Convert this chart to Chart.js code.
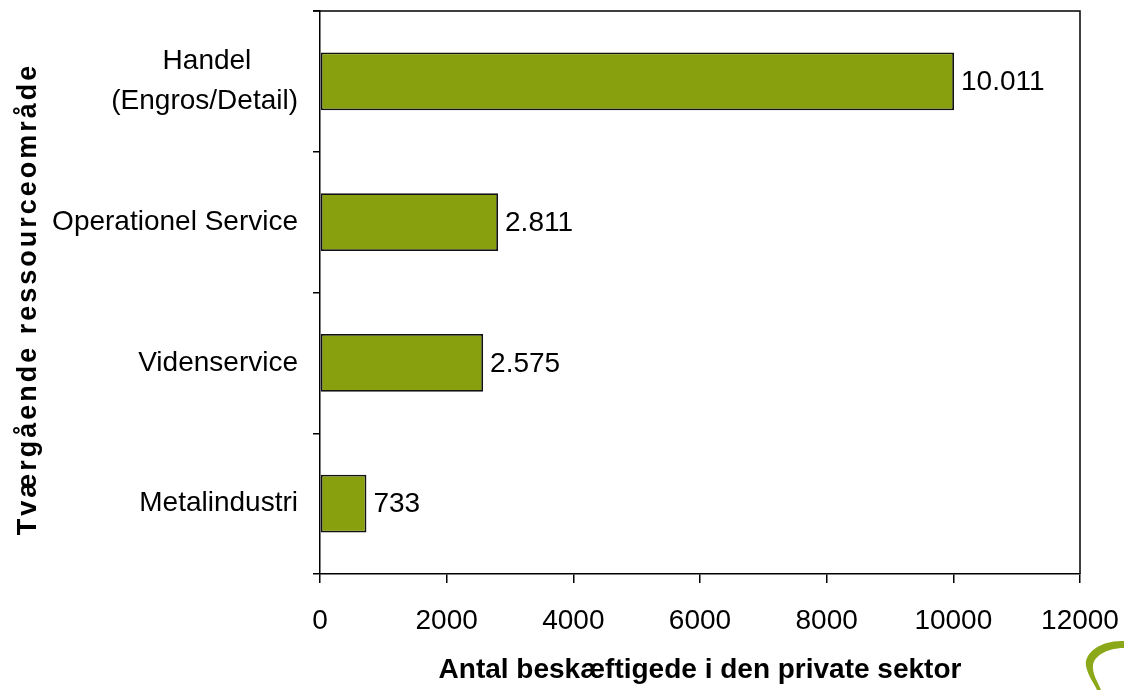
<!DOCTYPE html>
<html>
<head>
<meta charset="utf-8">
<script src="https://cdn.jsdelivr.net/npm/chart.js@4/dist/chart.umd.min.js"></script>
<style>
  html, body { margin: 0; padding: 0; background: #fff; }
  #wrap { width: 1124px; height: 690px; }
</style>
</head>
<body>
<div id="wrap"><canvas id="c" width="1124" height="690"></canvas></div>
<script>
const categories = [['Handel', '(Engros/Detail)'], 'Operationel Service', 'Videnservice', 'Metalindustri'];
const values = [10011, 2811, 2575, 733];
const xTicks = [0, 2000, 4000, 6000, 8000, 10000, 12000];
const xTitle = 'Antal beskæftigede i den private sektor';
const yTitle = 'Tværgående ressourceområde';

const FONT = "'Liberation Sans', Arial, sans-serif";
const BAR = '#88A00E';

const fmt = v => v.toLocaleString('da-DK');

// center the lines of a multi-line category label (right-aligned block)
const mctx = document.createElement('canvas').getContext('2d');
function centerLines(lines) {
  mctx.font = '28px ' + FONT;
  const ws = lines.map(l => mctx.measureText(l).width);
  const maxW = Math.max(...ws);
  const sp = mctx.measureText('\u00A0').width;
  return lines.map((l, i) => l + '\u00A0'.repeat(Math.round((maxW - ws[i]) / 2 / sp)));
}

const extras = {
  id: 'extras',
  afterDatasetsDraw(chart) {
    const ctx = chart.ctx;
    const a = chart.chartArea;
    ctx.save();
    ctx.strokeStyle = '#000';
    ctx.lineWidth = 1.5;
    ctx.beginPath();
    ctx.moveTo(a.left - 7, a.top);
    ctx.lineTo(a.right, a.top);
    ctx.lineTo(a.right, a.bottom);
    ctx.stroke();
    const meta = chart.getDatasetMeta(0);
    ctx.fillStyle = '#000';
    ctx.font = '28px ' + FONT;
    ctx.textBaseline = 'middle';
    ctx.textAlign = 'left';
    meta.data.forEach((bar, i) => {
      ctx.fillText(fmt(values[i]), bar.x + 7, bar.y + 1);
    });
    ctx.restore();
  },
  afterDraw(chart) {
    const ctx = chart.ctx;
    ctx.save();
    ctx.translate(29, 299);
    ctx.rotate(-Math.PI / 2);
    ctx.font = 'bold 27px ' + FONT;
    if ('letterSpacing' in ctx) ctx.letterSpacing = '3px';
    ctx.fillStyle = '#000';
    ctx.textAlign = 'center';
    ctx.textBaseline = 'middle';
    ctx.fillText(yTitle, 0, 0);
    ctx.restore();
    ctx.save();
    ctx.fillStyle = '#8AA817';
    ctx.beginPath();
    ctx.moveTo(1124, 641);
    ctx.bezierCurveTo(1102, 640, 1084, 652, 1086, 666);
    ctx.bezierCurveTo(1088, 676, 1094, 683, 1097, 690);
    ctx.lineTo(1101, 690);
    ctx.bezierCurveTo(1098, 682, 1092, 674, 1093, 665);
    ctx.bezierCurveTo(1095, 654, 1110, 648, 1124, 648);
    ctx.closePath();
    ctx.fill();
    ctx.restore();
  }
};

new Chart(document.getElementById('c'), {
  type: 'bar',
  data: {
    labels: categories,
    datasets: [{
      data: values,
      backgroundColor: BAR,
      borderColor: '#111',
      borderWidth: 1.8,
      borderSkipped: false,
      barPercentage: 0.41,
      categoryPercentage: 1.0
    }]
  },
  options: {
    indexAxis: 'y',
    responsive: false,
    animation: false,
    devicePixelRatio: 1,
    layout: { padding: { top: 11, right: 44, left: 0, bottom: 0 } },
    plugins: {
      legend: { display: false },
      tooltip: { enabled: false }
    },
    scales: {
      x: {
        min: 0, max: 12000,
        afterBuildTicks: s => { s.ticks = xTicks.map(v => ({ value: v })); },
        afterFit: s => { s.height = 116; s.paddingLeft = 0; s.paddingRight = 0; s.paddingTop = 0; s.paddingBottom = 0; },
        grid: { drawOnChartArea: false, drawTicks: true, tickLength: 9, color: '#000', lineWidth: 1.5 },
        border: { display: true, color: '#000', width: 1.5 },
        ticks: { color: '#000', font: { family: FONT, size: 28 }, padding: 21, maxRotation: 0,
                 callback: v => String(v) },
        title: {
          display: true, text: xTitle, color: '#000',
          font: { family: FONT, size: 28, weight: 'bold' },
          padding: { top: 4, bottom: 3 }
        }
      },
      y: {
        afterFit: s => { s.width = 320; s.paddingTop = 0; s.paddingBottom = 0; s.paddingLeft = 0; s.paddingRight = 0; },
        grid: { drawOnChartArea: false, drawTicks: true, tickLength: 7, color: '#000', lineWidth: 1.5, offset: true },
        border: { display: true, color: '#000', width: 1.5 },
        ticks: {
          color: '#000', font: { family: FONT, size: 28, lineHeight: 1.43 }, padding: 15,
          callback: function (v, i) {
            const l = categories[i];
            return Array.isArray(l) ? centerLines(l) : l;
          }
        },
        title: { display: false }
      }
    }
  },
  plugins: [extras]
});
</script>
</body>
</html>
